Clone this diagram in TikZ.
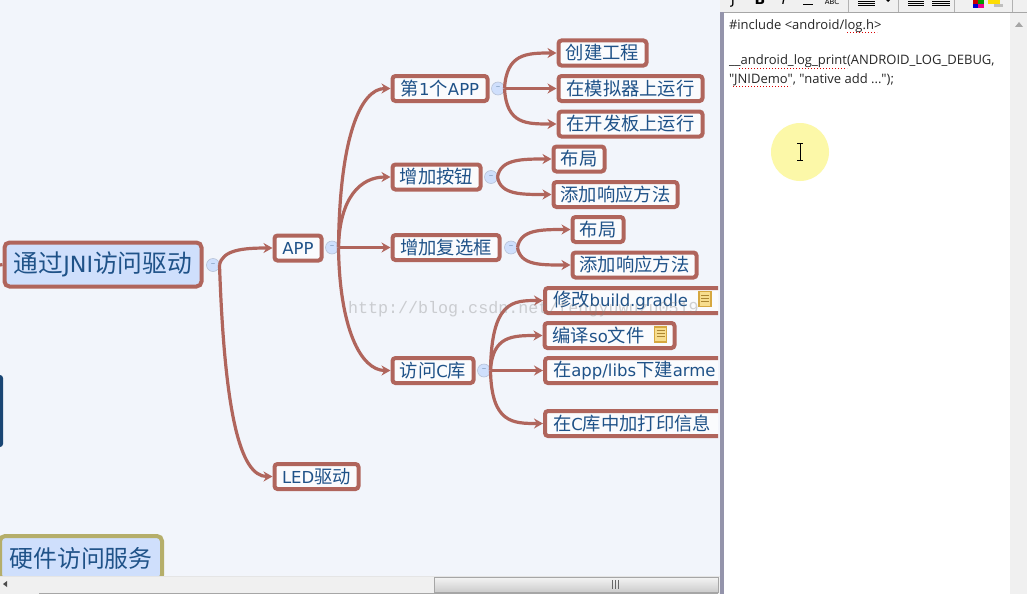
\documentclass[tikz,border=0pt]{standalone}
\usepackage{xcolor}
\usepackage{fontspec}
\setmainfont{DejaVu Sans}
\newfontfamily\cjk[Scale=1.11]{Noto Sans CJK SC}
\newfontfamily\codefont{Open Sans}
\newfontfamily\wmfont{Liberation Mono}
\newcommand{\zh}[1]{{\cjk #1}}
\definecolor{mapbg}{HTML}{F2F5FB}
\definecolor{linkcol}{HTML}{B0655C}
\definecolor{rootfill}{HTML}{CFDFFC}
\definecolor{txtcol}{HTML}{1F5288}
\definecolor{barcol}{HTML}{F0F0F0}
\definecolor{olivecol}{HTML}{B5AE6A}
\definecolor{spotcol}{HTML}{FCF8A8}
\definecolor{notefill}{HTML}{F7DD8E}
\definecolor{noteline}{HTML}{D6A840}
\usetikzlibrary{calc,positioning,arrows.meta}

\begin{document}
\begin{tikzpicture}[x=1pt,y=-1pt,
  link/.style={draw=linkcol,line width=3.2pt,-{Stealth[length=9pt,width=10pt]}},
  stub/.style={draw=linkcol,line width=3.2pt}]
  \tikzstyle{every node}=[inner sep=0pt,outer sep=0pt]
  \tikzstyle{sub}=[draw=linkcol,line width=4pt,outer sep=2pt,rounded corners=3pt,fill=mapbg!40!white,text=txtcol,
    font=\fontsize{16.5}{20}\selectfont,minimum height=25pt]
  \tikzstyle{main}=[sub,fill=rootfill,rounded corners=5pt,font=\fontsize{22.3}{26}\selectfont]
  \tikzstyle{cut}=[sub,anchor=west,text width=190pt,align=left,inner sep=8pt,inner ysep=0pt]
  \tikzstyle{btn}=[circle,draw=rootfill!70!gray,fill=rootfill,line width=.6pt,minimum size=13pt,
    text=txtcol!60!white,font=\fontsize{9}{9}\selectfont]
  \tikzstyle{note}=[draw=noteline,fill=notefill,line width=1.2pt,minimum width=12pt,minimum height=15pt]
  \tikzstyle{code}=[anchor=west,text=black!85,font=\codefont\fontsize{13}{15}\selectfont]
  \tikzstyle{spell}=[draw=red!85!black,dotted,line width=1pt]

  \useasboundingbox (0,0) rectangle (1027,594);
  \fill[mapbg] (0,0) rectangle (720,594);
  \fill[white] (724,12) rectangle (1010,594);

  \begin{scope}
    \clip (0,0) rectangle (718,576);
    \node[sub,main,minimum width=197pt,minimum height=44pt] (root) at (103,264.5) {\zh{通过}JNI\zh{访问驱动}};
    \node[btn] (root_b) at (213,265) {--};
    \node[sub,fill=rootfill,draw=olivecol,rounded corners=5pt,font=\fontsize{21.5}{26}\selectfont,minimum width=162pt,minimum height=44pt] (hw) at (81,558) {\zh{硬件访问服务}};
    \node[fill=txtcol!85!black,rounded corners=3pt,minimum width=16pt,minimum height=72pt] (side) at (-5,411) {};
    \coordinate (root_in) at (0,265);

    \node[sub,minimum width=47pt] (app) at (298,248) {APP};
    \node[btn] (app_b) at (332,247.5) {--};
    \node[sub,minimum width=84pt] (led) at (316.5,476.5) {LED\zh{驱动}};

    \node[sub,minimum width=95pt] (first) at (440,88.5) {\zh{第}1\zh{个}APP};
    \node[btn] (first_b) at (498,88.5) {--};
    \node[sub,minimum width=88pt] (btnbox) at (436.5,177) {\zh{增加按钮}};
    \node[btn] (btnbox_b) at (491,177) {--};
    \node[sub,minimum width=107pt] (check) at (446,247.5) {\zh{增加复选框}};
    \node[btn] (check_b) at (511,247.5) {--};
    \node[sub,minimum width=81pt] (clib) at (433,370.5) {\zh{访问}C\zh{库}};
    \node[btn] (clib_b) at (484,370.5) {--};

    \node[sub,minimum width=88pt] (create) at (602.5,53) {\zh{创建工程}};
    \node[sub,minimum width=144pt] (sim) at (630.5,88.5) {\zh{在模拟器上运行}};
    \node[sub,minimum width=144pt] (board) at (630.5,124) {\zh{在开发板上运行}};
    \node[sub,minimum width=51pt] (layout_a) at (579,159) {\zh{布局}};
    \node[sub,minimum width=124pt] (resp_a) at (615.5,194.5) {\zh{添加响应方法}};
    \node[sub,minimum width=51pt] (layout_b) at (598,229.5) {\zh{布局}};
    \node[sub,minimum width=124pt] (resp_b) at (634.5,265) {\zh{添加响应方法}};

    \node[cut] (gradle) at (543,300.5) {\zh{修改}build.gradle};
    \node[sub,minimum width=130pt] (sofile) at (609.5,335.5) {\hspace*{-22pt}\zh{编译}so\zh{文件}};
    \node[cut] (arme) at (543,370.5) {\zh{在}app/libs\zh{下建}arme};
    \node[cut] (print) at (543,423.5) {\zh{在}C\zh{库中加打印信息}};

    \node[note] (note_a) at (705,299) {};
    \node[note] (note_b) at (660.5,334.5) {};
    \foreach \n in {note_a,note_b}
      \foreach \f in {.25,.45,.65}
        \draw[noteline!80!black,line width=.7pt] ($(\n.north west)!\f!(\n.south west)+(2,0)$) -- ($(\n.north east)!\f!(\n.south east)+(-2,0)$);

    \draw[stub] (root_in) -- (root.west);
    \draw[link] (root_b.east) .. controls +(3,-15) and +(-30,0) .. (app.west);
    \draw[link] (root_b.east) .. controls +(5,145) and +(-33,0) .. (led.west);

    \draw[link] (app_b.east) .. controls +(1,-110) and +(-30,0) .. (first.west);
    \draw[link] (app_b.east) .. controls +(1,-50) and +(-30,0) .. (btnbox.west);
    \draw[link] (app_b.east) -- (check.west);
    \draw[link] (app_b.east) .. controls +(1,80) and +(-30,0) .. (clib.west);

    \draw[link] (first_b.east) .. controls +(2,-35) and +(-30,0) .. (create.west);
    \draw[link] (first_b.east) -- (sim.west);
    \draw[link] (first_b.east) .. controls +(2,36) and +(-30,0) .. (board.west);

    \draw[link] (btnbox_b.east) .. controls +(3,-18) and +(-30,0) .. (layout_a.west);
    \draw[link] (btnbox_b.east) .. controls +(3,18) and +(-30,0) .. (resp_a.west);
    \draw[link] (check_b.east) .. controls +(3,-18) and +(-30,0) .. (layout_b.west);
    \draw[link] (check_b.east) .. controls +(3,18) and +(-30,0) .. (resp_b.west);

    \draw[link] (clib_b.east) .. controls +(1,-70) and +(-30,0) .. (gradle.west);
    \draw[link] (clib_b.east) .. controls +(2,-35) and +(-30,0) .. (sofile.west);
    \draw[link] (clib_b.east) -- (arme.west);
    \draw[link] (clib_b.east) .. controls +(1,53) and +(-30,0) .. (print.west);

    \node[anchor=west,text=gray,opacity=.35,font=\wmfont\fontsize{16.7}{18}\selectfont] (mark) at (348,309) {http://blog.csdn.net/fengyuwuzu0519};
  \end{scope}

  \fill[black!35!blue!20!gray!70!white] (720,0) rectangle (724,594);
  \fill[barcol] (720,0) rectangle (1027,12);
  \draw[gray!70,line width=1pt] (724,12.5) -- (1027,12.5);
  \fill[barcol] (1010,13) rectangle (1027,594);
  \fill[gray!70] (1015,27) -- (1019,22) -- (1023,27) -- cycle;

  \begin{scope}
    \clip (724,0) rectangle (1027,12);
    \node[font=\bfseries\fontsize{14}{14}\selectfont,anchor=base] (t_b) at (760,5) {B};
    \node[font=\itshape\fontsize{14}{14}\selectfont,anchor=base] (t_i) at (784,5) {I};
    \node[font=\fontsize{14}{14}\selectfont,anchor=base] (t_j) at (733,5) {J};
    \draw[line width=1pt] (803,5) -- (813,5);
    \node[font=\fontsize{7}{7}\selectfont,anchor=base] (t_s) at (832,5) {ABC};
    \foreach \x in {848,898,954,1012}
      \draw[gray!60] (\x,0) -- (\x,12);
    \foreach \x/\w in {858/17,908/16,932/18}
      \foreach \y in {1,3,5}
        \draw[black,line width=.8pt] (\x,\y) -- ++(\w,0);
    \fill (886,0) -- (890,0) -- (888,2) -- cycle;
    \fill[red!80!black] (973,0) rectangle (978,4);
    \fill[green!60!black] (978,0) rectangle (984,4);
    \fill[blue!80!black] (973,4) rectangle (978,8);
    \fill[magenta] (978,4) rectangle (984,8);
    \fill[yellow!80!orange] (988,0) rectangle (1000,4);
    \fill[gray!50] (994,4) rectangle (1003,7);
  \end{scope}

  \node[code] (l_a) at (729,26) {\#include <android/log.h>};
  \node[code] (l_b) at (729,61.5) {\_\_android\_log\_print(ANDROID\_LOG\_DEBUG,};
  \node[code] (l_c) at (729,79.5) {"JNIDemo", "native add ...");};
  \draw[spell] (847,33) -- (877,33);
  \draw[spell] (739,68) -- (847,68);
  \draw[spell] (733,86) -- (790,86);

  \node[circle,fill=spotcol,minimum size=58pt] (spot) at (800,152) {};
  \draw[black,line width=1pt] (800,144) -- (800,160) (797,143.5) -- (803,143.5) (797,160.5) -- (803,160.5);

  \fill[barcol] (0,576) rectangle (720,594);
  \draw[gray!20] (0,576.5) -- (720,576.5);
  \draw[gray!70,top color=barcol!70!white,bottom color=gray!40,line width=.8pt] (434.5,577) rectangle (718,592);
  \foreach \x in {612,615,618}
    \draw[gray!80!black,line width=1pt] (\x,580) -- (\x,589);
  \fill[black!70] (3,584) -- (7,581) -- (7,587) -- cycle;
  \draw[gray!70,line width=1pt] (39,593.5) -- (718,593.5);
\end{tikzpicture}
\end{document}
